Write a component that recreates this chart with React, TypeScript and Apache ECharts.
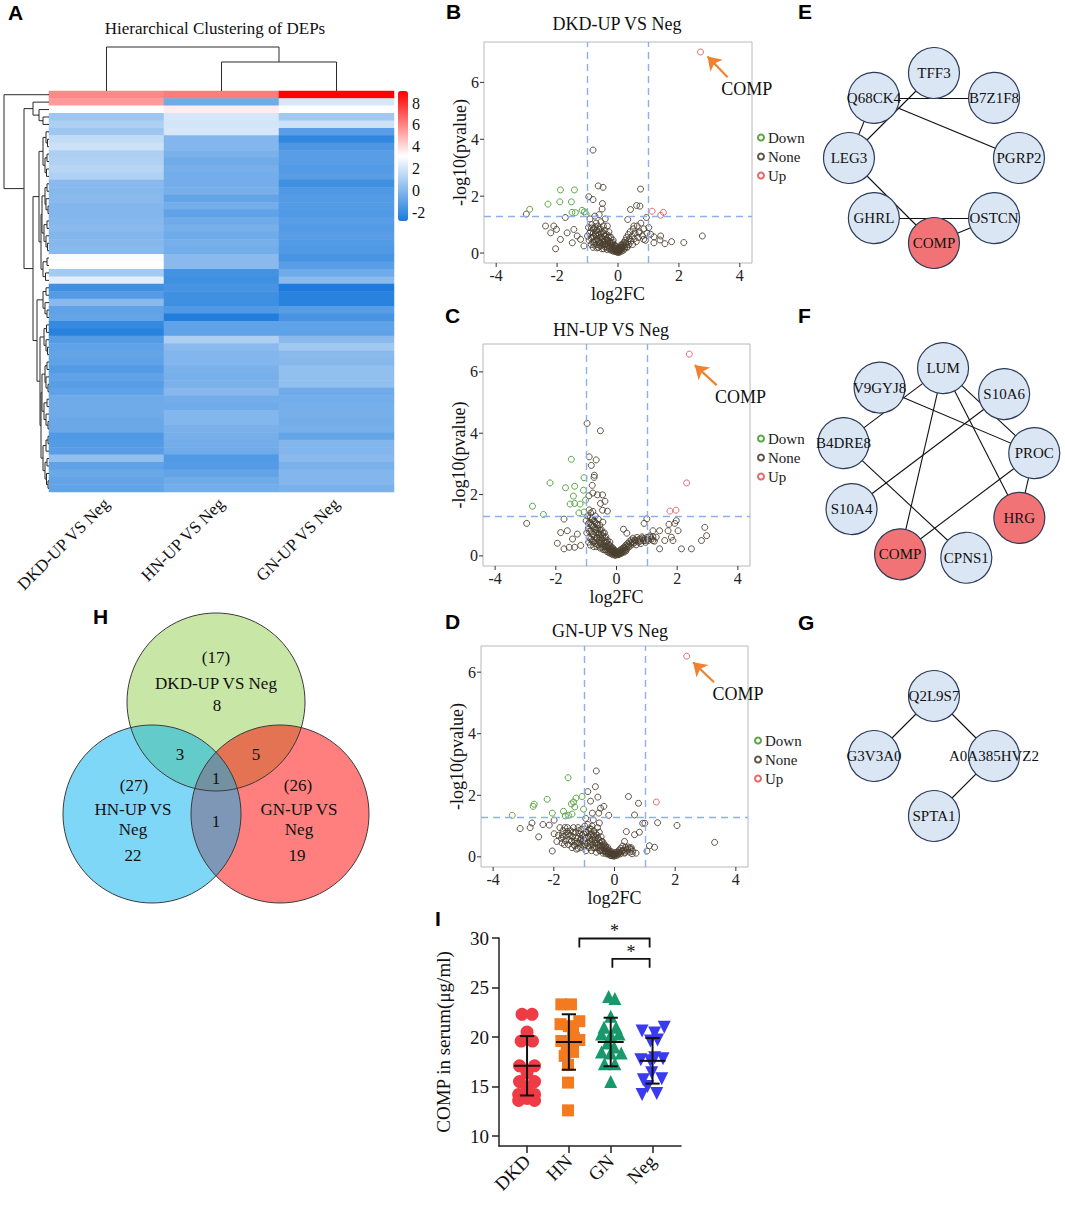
import React, { useEffect, useRef } from "react";
import * as echarts from "echarts";

const SERIF = '"Liberation Serif", "Times New Roman", serif';
const SANS = '"Liberation Sans", Arial, sans-serif';

// ---------------- Panel A: heatmap ----------------
const heatCols = ["DKD-UP VS Neg", "HN-UP VS Neg", "GN-UP VS Neg"];
const heatDKD = [5.9, 5.5, 3.1, 0.6, 1.0, 0.6, 1.6, 1.8, 1.0, 1.1, 1.3, 1.1, 0.1, 0.0, 0.1, -0.1, -0.1, 0.0, 0.1, -0.1, 0.0, 0.1, 3.0, 3.15, 0.8, 2.4, -1.8, -1.3, 0.1, -1.0, -0.9, -2.1, -2.4, -1.3, -1.0, -0.9, -1.0, -1.3, -1.0, -1.2, -1.0, -0.6, -0.6, -0.6, -0.7, -0.7, -1.4, -1.3, -1.2, 0.3, -1.0, -0.7, -0.9, -0.9];
const heatHN = [6.2, -0.6, 3.6, 2.1, 2.0, 2.1, -0.1, -0.1, -0.3, -0.6, -0.4, -0.5, -0.5, -0.4, -0.9, -0.5, -1.0, -0.6, -0.4, -0.6, -0.4, -0.5, 0.1, 0.1, -1.7, -1.8, -1.6, -1.8, -1.8, -1.4, -2.6, -1.0, -1.0, 1.0, 0.1, -0.1, -0.1, -0.3, -0.4, -0.3, 0.0, -0.5, -0.6, -0.1, -0.1, -0.3, -0.4, -0.5, -0.6, -1.4, -1.3, -0.9, -0.6, -0.5];
const heatGN = [9.0, 2.1, 3.1, 0.7, 1.8, -1.2, -2.2, -1.5, -1.2, -1.2, -1.3, -1.2, -1.8, -1.4, -1.3, -1.3, -1.4, -1.2, -1.3, -1.2, -1.3, -1.4, -1.6, -1.2, -0.6, 0.1, -2.7, -2.4, -2.4, -1.2, -1.6, -1.0, -1.0, 0.1, 0.7, 0.1, 0.0, 0.3, 0.3, 0.3, -0.6, -0.5, -0.4, -0.4, -0.5, -0.4, -0.9, -0.1, -0.1, 0.1, -0.3, -0.1, -0.1, -0.3];
const colorTicks = [-2, 0, 2, 4, 6, 8];
const colorMin = -2.8;
const colorMax = 9.1;

// dendrograms: [height, left, right], leaves are row / column indices
const rowTreeB = [16, 1, [10, 2, [6, 3, 4]]];
const rowTreeDa = [6, [3, 5, [1.5, 6, 7]], [4, [2, 8, 9], [2.5, 10, 11]]];
const rowTreeDb = [7, [4, [2, 12, 13], [3, 14, [1, 15, 16]]], [5, [2, 17, 18], [3, 19, [1.5, 20, 21]]]];
const rowTreeD2 = [6, [2, 22, 23], [3.5, 24, 25]];
const rowTreeE1 = [6, [3, 26, 27], [4, 28, [2, 29, 30]]];
const rowTreeE2a = [5, [2.5, 31, 32], [3, 33, [1.5, 34, 35]]];
const rowTreeE2b = [7, [4, [2, 36, 37], [3, 38, [1, 39, 40]]], [5, [2, 41, 42], [3, 43, [1, 44, 45]]]];
const rowTreeE2c = [6, [3, [1, 46, 47], 48], [4, [2, 49, 50], [2.5, 51, [1, 52, 53]]]];
const rowTree = [45, 0, [25, rowTreeB, [16, [10, rowTreeDa, [8, rowTreeDb, rowTreeD2]], [12, rowTreeE1, [9, rowTreeE2a, [8, rowTreeE2b, rowTreeE2c]]]]]];
const colTree = [44, 0, [29, 1, 2]];

// ---------------- Panels B-D: volcano ----------------
const volcanoTitles = ["DKD-UP VS Neg", "HN-UP VS Neg", "GN-UP VS Neg"];
const volcanoXName = "log2FC";
const volcanoYName = "-log10(pvalue)";
const fcCut = [-1, 1];
const pCut = 1.301;
const volcanoXMin = -4.4;
const volcanoXMax = 4.4;
const volcanoYMin = [-0.35, -0.33, -0.33];
const volcanoYMax = [7.42, 6.91, 6.85];
const volcanoXTicks = [-4, -2, 0, 2, 4];
const volcanoYTicks = [0, 2, 4, 6];

const dkdUp = [[2.71, 7.07], [1.12, 1.47], [1.49, 1.43], [1.4, 1.33]];
const dkdDown = [[-2.9, 1.54], [-2.3, 1.72], [-1.89, 2.22], [-1.43, 2.22], [-1.91, 1.8], [-1.53, 1.8], [-1.51, 1.43], [-1.4, 1.42], [-1.18, 1.5], [-1.1, 1.45], [-1.05, 1.38]];
const dkdNone = [[-3.01, 1.37], [-0.82, 3.62], [-0.65, 2.36], [-0.49, 2.31], [0.74, 2.25], [0.61, 1.67], [0.72, 1.65], [-0.96, 1.98], [-0.82, 1.88], [-0.51, 1.74], [0.41, 1.53], [-1.73, 1.25], [-2.38, 0.95], [-2.11, 0.95], [-2.02, 0.83], [-2.21, 0.71], [-2.05, 0.15], [-1.89, 0.48], [-1.67, 0.71], [-1.45, 0.83], [-1.34, 0.6], [-1.5, 0.36], [-1.23, 0.48], [-1.12, 0.25], [2.77, 0.6], [2.16, 0.37], [1.76, 0.4], [1.38, 0.46], [1.18, 0.36], [1.07, 0.66], [1.01, 0.9], [0.93, 1.25], [0.52, 0.95], [0.32, 1.18], [0.68, 0.71], [0.84, 0.48], [1.18, 0.57], [1.4, 0.6], [1.54, 0.33],
  [-1.0, 0.6], [-0.97, 0.9], [-0.95, 0.45], [-0.92, 1.2], [-0.9, 0.75], [-0.88, 0.3], [-0.86, 1.0], [-0.84, 0.55], [-0.82, 0.2], [-0.8, 0.85], [-0.78, 0.4], [-0.76, 1.3], [-0.74, 0.65], [-0.72, 1.05], [-0.7, 0.3], [-0.7, 0.8], [-0.68, 0.5], [-0.66, 0.95], [-0.64, 0.2], [-0.62, 1.35], [-0.62, 0.65], [-0.6, 0.4], [-0.58, 0.85], [-0.56, 1.1], [-0.55, 0.25], [-0.54, 0.55], [-0.52, 1.55], [-0.52, 0.75], [-0.5, 0.4], [-0.48, 0.95], [-0.47, 0.15], [-0.46, 0.6], [-0.44, 0.3], [-0.43, 0.8], [-0.42, 1.2], [-0.4, 0.45], [-0.38, 0.65], [-0.37, 0.2], [-0.35, 0.95], [-0.34, 0.35], [-0.32, 0.55], [-0.3, 0.75], [-0.29, 0.15], [-0.27, 0.4], [-0.25, 0.28], [-0.23, 0.55], [-0.21, 0.12], [-0.2, 0.35], [-0.18, 0.22], [-0.16, 0.45], [-0.14, 0.1], [-0.12, 0.28], [-0.1, 0.16], [-0.08, 0.06], [-0.06, 0.22], [-0.04, 0.1], [-0.02, 0.03], [0.0, 0.12], [0.02, 0.05], [0.04, 0.15], [0.06, 0.08], [0.08, 0.2], [0.1, 0.12], [0.12, 0.26], [0.14, 0.18], [0.16, 0.32], [0.18, 0.1], [0.2, 0.38], [0.22, 0.22], [0.24, 0.45], [0.26, 0.3], [0.28, 0.55], [0.3, 0.2], [0.32, 0.4], [0.34, 0.65], [0.36, 0.3], [0.38, 0.5], [0.4, 0.75], [0.43, 0.42], [0.46, 0.6], [0.48, 0.3], [0.5, 0.85], [0.53, 0.5], [0.56, 0.7], [0.6, 0.4], [0.63, 0.95], [0.66, 0.55], [0.7, 0.75], [0.75, 1.05], [0.8, 0.6], [0.85, 0.85], [0.9, 0.45], [0.95, 0.7],
  [-0.93, 0.7], [-0.89, 0.52], [-0.87, 0.88], [-0.83, 0.38], [-0.81, 0.7], [-0.79, 0.58], [-0.77, 0.28], [-0.75, 0.92], [-0.73, 0.46], [-0.71, 0.6], [-0.69, 0.18], [-0.67, 0.72], [-0.65, 0.42], [-0.63, 0.85], [-0.61, 0.28], [-0.59, 0.55], [-0.57, 0.35], [-0.55, 0.7], [-0.53, 0.15], [-0.51, 0.5], [-0.49, 0.3], [-0.47, 0.68], [-0.45, 0.42], [-0.43, 0.22], [-0.41, 0.58], [-0.39, 0.32], [-0.37, 0.5], [-0.35, 0.12], [-0.33, 0.44], [-0.31, 0.26], [-0.29, 0.6], [-0.27, 0.2], [-0.25, 0.36], [-0.23, 0.1], [-0.21, 0.3], [-0.19, 0.16], [-0.17, 0.38], [-0.15, 0.06], [-0.13, 0.2], [-0.11, 0.1], [-0.09, 0.25], [-0.07, 0.14], [-0.05, 0.04], [-0.03, 0.18], [-0.01, 0.08], [0.01, 0.14], [0.03, 0.02], [0.05, 0.2], [0.07, 0.1], [0.09, 0.28], [0.11, 0.06], [0.13, 0.2], [0.17, 0.26], [0.21, 0.16], [0.25, 0.35], [0.29, 0.22]];

const hnUp = [[2.4, 6.58], [2.31, 2.38], [1.76, 1.46], [1.96, 1.49]];
const hnDown = [[-2.77, 1.62], [-2.41, 1.35], [-2.19, 2.38], [-1.68, 2.22], [-1.49, 3.15], [-1.38, 2.27], [-1.42, 1.95], [-1.38, 1.71], [-1.53, 1.69], [-1.2, 1.69], [-1.24, 1.4], [-1.07, 1.43], [-1.07, 2.55], [-1.09, 2.14], [-1.02, 1.82]];
const hnNone = [[-0.97, 4.32], [-0.53, 4.08], [-0.9, 3.23], [-0.67, 3.13], [-0.83, 2.95], [-0.73, 2.63], [-0.74, 2.56], [-0.8, 2.3], [-0.78, 2.05], [-0.91, 1.96], [-0.63, 1.99], [-0.46, 1.99], [-0.38, 1.78], [-0.53, 1.71], [-0.46, 1.49], [-0.3, 1.46], [-2.96, 1.06], [-1.95, 0.41], [-1.73, 1.2], [-1.84, 0.76], [-1.62, 0.82], [-1.45, 0.55], [-1.29, 0.71], [-1.18, 0.34], [-1.56, 0.28], [-1.38, 0.28], [-1.73, 0.23], [1.0, 1.21], [0.91, 1.06], [0.23, 0.87], [0.34, 0.74], [1.2, 0.82], [1.42, 0.82], [1.7, 0.82], [1.73, 1.03], [1.92, 1.06], [1.97, 1.15], [2.03, 0.82], [1.81, 0.61], [1.59, 0.5], [1.42, 0.23], [1.86, 0.5], [2.14, 0.23], [2.47, 0.23], [2.8, 0.5], [2.91, 0.93], [2.97, 0.66], [1.2, 0.5], [1.1, 0.61], [1.31, 0.61],
  [-0.95, 1.3], [-0.93, 0.9], [-0.9, 1.5], [-0.9, 0.6], [-0.88, 1.1], [-0.86, 0.35], [-0.85, 1.4], [-0.84, 0.8], [-0.82, 1.2], [-0.8, 0.5], [-0.8, 1.0], [-0.78, 1.45], [-0.77, 0.7], [-0.75, 0.3], [-0.74, 1.15], [-0.72, 0.9], [-0.7, 0.5], [-0.7, 1.3], [-0.68, 0.75], [-0.66, 1.05], [-0.65, 0.3], [-0.63, 0.6], [-0.62, 0.9], [-0.6, 1.2], [-0.58, 0.45], [-0.57, 0.75], [-0.55, 1.0], [-0.53, 0.25], [-0.52, 0.6], [-0.5, 0.85], [-0.48, 0.4], [-0.46, 0.65], [-0.45, 1.1], [-0.43, 0.3], [-0.42, 0.5], [-0.4, 0.75], [-0.38, 0.2], [-0.36, 0.45], [-0.35, 0.62], [-0.33, 0.3], [-0.3, 0.5], [-0.28, 0.18], [-0.26, 0.38], [-0.24, 0.25], [-0.22, 0.45], [-0.2, 0.14], [-0.18, 0.3], [-0.16, 0.2], [-0.14, 0.1], [-0.12, 0.26], [-0.1, 0.15], [-0.08, 0.06], [-0.06, 0.18], [-0.04, 0.08], [-0.02, 0.03], [0.0, 0.1], [0.03, 0.04], [0.06, 0.12], [0.09, 0.07], [0.12, 0.16], [0.15, 0.1], [0.18, 0.22], [0.21, 0.14], [0.24, 0.28], [0.27, 0.18], [0.3, 0.34], [0.33, 0.22], [0.36, 0.4], [0.39, 0.28], [0.42, 0.46], [0.45, 0.32], [0.48, 0.52], [0.52, 0.38], [0.55, 0.58], [0.58, 0.42], [0.62, 0.5], [0.65, 0.36], [0.68, 0.6], [0.72, 0.45], [0.76, 0.55], [0.8, 0.4], [0.84, 0.62], [0.88, 0.5], [0.92, 0.56], [0.96, 0.44], [1.0, 0.6], [1.05, 0.5], [1.1, 0.65], [1.15, 0.55], [1.2, 0.62], [1.25, 0.48], [-0.98, 0.75], [-1.0, 1.15], [-0.92, 0.45],
  [-0.92, 1.05], [-0.9, 0.8], [-0.87, 1.25], [-0.85, 0.55], [-0.83, 1.0], [-0.81, 0.72], [-0.79, 1.2], [-0.77, 0.45], [-0.75, 0.95], [-0.73, 0.62], [-0.71, 1.1], [-0.69, 0.4], [-0.67, 0.85], [-0.65, 0.58], [-0.63, 1.0], [-0.61, 0.35], [-0.59, 0.7], [-0.57, 0.5], [-0.55, 0.85], [-0.53, 0.4], [-0.51, 0.7], [-0.49, 0.28], [-0.47, 0.52], [-0.45, 0.75], [-0.43, 0.2], [-0.41, 0.42], [-0.39, 0.6], [-0.37, 0.3], [-0.35, 0.2], [-0.33, 0.45], [-0.31, 0.14], [-0.29, 0.32], [-0.27, 0.24], [-0.25, 0.1], [-0.23, 0.34], [-0.21, 0.2], [-0.19, 0.08], [-0.17, 0.24], [-0.15, 0.15], [-0.13, 0.04], [-0.11, 0.12], [-0.09, 0.2], [-0.07, 0.1], [-0.05, 0.02], [-0.03, 0.14], [0.01, 0.06], [0.04, 0.14], [0.07, 0.04], [0.1, 0.1], [0.13, 0.2], [0.16, 0.08], [0.19, 0.16], [0.22, 0.24], [0.25, 0.12], [0.28, 0.26], [0.31, 0.16], [0.34, 0.3], [0.4, 0.36], [0.47, 0.42], [0.53, 0.46], [0.6, 0.52], [0.7, 0.5], [0.78, 0.48], [0.86, 0.58], [0.94, 0.5], [1.02, 0.55]];

const gnUp = [[2.38, 6.52], [1.38, 1.78]];
const gnDown = [[-3.37, 1.35], [-2.68, 1.64], [-2.65, 1.71], [-2.22, 1.87], [-2.05, 1.42], [-1.53, 2.57], [-1.68, 1.48], [-1.62, 1.33], [-1.51, 1.35], [-1.4, 1.39], [-1.42, 1.72], [-1.35, 1.78], [-1.31, 1.62], [-1.27, 1.91], [-1.07, 1.96], [-1.02, 1.55]];
const gnNone = [[-0.6, 2.79], [-0.63, 2.28], [-0.88, 2.12], [-0.55, 1.94], [-0.79, 1.81], [-0.35, 1.64], [-0.46, 1.58], [-0.73, 1.42], [-0.52, 1.42], [-0.19, 1.35], [0.46, 1.96], [0.66, 1.36], [0.79, 1.74], [0.93, 1.09], [1.0, 1.09], [1.42, 1.11], [2.06, 1.02], [3.3, 0.47], [0.82, 0.8], [0.66, 0.72], [0.39, 0.82], [0.33, 0.5], [0.55, 0.3], [0.71, 0.12], [1.32, 0.31], [1.15, 0.36], [1.07, 0.19], [-3.11, 0.92], [-2.78, 0.95], [-2.72, 1.1], [-2.5, 0.65], [-2.36, 1.05], [-2.05, 0.19], [-2.15, 1.03], [-1.99, 1.19], [-1.99, 0.75], [-1.7, 0.65], [-1.64, 0.95], [-1.51, 0.75], [-1.42, 0.51], [-1.31, 0.36], [-1.73, 0.45], [-1.2, 0.28],
  [-1.8, 0.95], [-1.75, 0.6], [-1.7, 0.85], [-1.65, 0.4], [-1.6, 0.7], [-1.55, 0.95], [-1.5, 0.55], [-1.45, 0.85], [-1.4, 0.3], [-1.38, 0.65], [-1.35, 0.95], [-1.3, 0.5], [-1.28, 0.8], [-1.25, 0.25], [-1.22, 0.6], [-1.2, 0.95], [-1.18, 0.45], [-1.15, 0.75], [-1.12, 0.3], [-1.1, 0.6], [-1.08, 0.9], [-1.05, 0.5], [-1.02, 0.75], [-1.0, 0.35], [-0.98, 1.0], [-0.96, 0.6], [-0.94, 0.2], [-0.92, 0.8], [-0.9, 0.45], [-0.88, 1.05], [-0.86, 0.65], [-0.84, 0.3], [-0.82, 0.9], [-0.8, 0.5], [-0.78, 0.75], [-0.76, 0.2], [-0.74, 1.0], [-0.72, 0.4], [-0.7, 0.65], [-0.68, 0.85], [-0.66, 0.3], [-0.64, 0.55], [-0.62, 0.75], [-0.6, 0.15], [-0.58, 0.45], [-0.56, 0.95], [-0.54, 0.6], [-0.52, 0.3], [-0.5, 0.8], [-0.48, 0.45], [-0.46, 0.2], [-0.44, 0.65], [-0.42, 0.35], [-0.4, 0.5], [-0.38, 0.12], [-0.36, 0.28], [-0.34, 0.42], [-0.32, 0.2], [-0.3, 0.35], [-0.28, 0.1], [-0.26, 0.25], [-0.24, 0.15], [-0.22, 0.3], [-0.2, 0.08], [-0.18, 0.2], [-0.16, 0.12], [-0.14, 0.05], [-0.12, 0.18], [-0.1, 0.1], [-0.08, 0.04], [-0.06, 0.14], [-0.04, 0.06], [-0.02, 0.02], [0.0, 0.08], [0.03, 0.12], [0.06, 0.05], [0.09, 0.16], [0.12, 0.1], [0.15, 0.22], [0.18, 0.14], [0.21, 0.28], [0.24, 0.18], [0.27, 0.35], [0.3, 0.22], [0.33, 0.12], [0.36, 0.3], [0.4, 0.2], [0.45, 0.32], [0.5, 0.15], [0.55, 0.25], [0.6, 0.18], [-1.85, 0.7], [-1.9, 0.5], [-0.95, 1.25], [-0.7, 1.2], [-0.5, 1.1],
  [-1.72, 0.72], [-1.62, 0.52], [-1.57, 0.82], [-1.52, 0.4], [-1.47, 0.7], [-1.42, 0.5], [-1.37, 0.8], [-1.33, 0.38], [-1.27, 0.62], [-1.23, 0.45], [-1.17, 0.85], [-1.13, 0.55], [-1.09, 0.4], [-1.06, 0.7], [-1.01, 0.55], [-0.97, 0.4], [-0.95, 0.8], [-0.91, 0.6], [-0.87, 0.35], [-0.85, 0.85], [-0.81, 0.62], [-0.79, 0.4], [-0.77, 0.9], [-0.73, 0.55], [-0.71, 0.3], [-0.69, 0.7], [-0.65, 0.45], [-0.63, 0.62], [-0.59, 0.3], [-0.57, 0.7], [-0.55, 0.4], [-0.51, 0.55], [-0.49, 0.2], [-0.47, 0.35], [-0.43, 0.5], [-0.41, 0.22], [-0.37, 0.38], [-0.35, 0.18], [-0.33, 0.3], [-0.29, 0.16], [-0.27, 0.3], [-0.23, 0.2], [-0.21, 0.12], [-0.17, 0.16], [-0.13, 0.1], [-0.11, 0.04], [-0.07, 0.08], [-0.03, 0.1], [0.01, 0.04], [0.05, 0.14], [0.1, 0.06], [0.14, 0.16], [0.2, 0.1], [0.26, 0.2], [0.35, 0.15], [0.42, 0.25], [0.5, 0.28], [0.58, 0.1]];

const volcanoUp = [dkdUp, hnUp, gnUp];
const volcanoDown = [dkdDown, hnDown, gnDown];
const volcanoNone = [dkdNone, hnNone, gnNone];
const arrowTail = [[3.6, 6.18], [3.3, 5.57], [3.28, 5.67]];
const arrowHead = [[2.94, 6.91], [2.58, 6.22], [2.59, 6.32]];
const compLabelAt = [[4.23, 5.75], [4.09, 5.17], [4.07, 5.28]];

// ---------------- Panels E-G: networks ----------------
const netENodes = ["TFF3", "B7Z1F8", "PGRP2", "OSTCN", "COMP", "GHRL", "LEG3", "Q68CK4"];
const netEEdges = [["Q68CK4", "B7Z1F8"], ["TFF3", "LEG3"], ["Q68CK4", "LEG3"], ["Q68CK4", "PGRP2"], ["LEG3", "COMP"], ["GHRL", "OSTCN"], ["COMP", "OSTCN"]];
const netFNodes = ["LUM", "S10A6", "PROC", "HRG", "CPNS1", "COMP", "S10A4", "B4DRE8", "V9GYJ8"];
const netFEdges = [["LUM", "B4DRE8"], ["LUM", "COMP"], ["LUM", "PROC"], ["LUM", "HRG"], ["V9GYJ8", "PROC"], ["S10A6", "S10A4"], ["B4DRE8", "CPNS1"], ["PROC", "COMP"], ["PROC", "HRG"]];
const netGNodes = ["Q2L9S7", "A0A385HVZ2", "SPTA1", "G3V3A0"];
const netGEdges = [["Q2L9S7", "G3V3A0"], ["Q2L9S7", "A0A385HVZ2"], ["A0A385HVZ2", "SPTA1"]];
const netHighlight = ["COMP", "HRG"];

// ---------------- Panel H: Venn ----------------
const vennSets = ["DKD-UP VS Neg", "HN-UP VS Neg", "GN-UP VS Neg"];
const vennTotals = [17, 27, 26];
const vennOnly = [8, 22, 19];
const vennPairs = [3, 5, 1]; // DKD∩HN, DKD∩GN, HN∩GN
const vennAll = 1;

// ---------------- Panel I: serum COMP ----------------
const groupNames = ["DKD", "HN", "GN", "Neg"];
const dkdSerum = [[0.88, 22.3], [1.12, 22.3], [1.0, 20.5], [0.86, 19.6], [1.13, 19.6], [0.82, 17.1], [1.18, 17.1], [1.0, 16.4], [0.82, 15.5], [1.18, 15.5], [1.0, 14.9], [0.8, 14.2], [1.18, 14.2], [0.8, 13.6], [1.0, 13.8], [1.18, 13.6]];
const hnSerum = [[1.82, 23.3], [2.05, 23.3], [1.8, 21.3], [2.0, 21.1], [2.25, 21.6], [2.1, 20.5], [1.82, 19.6], [2.0, 19.6], [2.25, 19.7], [2.12, 19.9], [1.95, 18.9], [2.1, 18.5], [1.9, 18.1], [1.98, 17.2], [1.98, 15.4], [1.98, 12.6]];
const gnSerum = [[2.95, 24.1], [3.1, 23.9], [3.0, 22.1], [2.84, 21.0], [3.13, 21.0], [2.78, 20.3], [3.0, 20.2], [3.2, 20.3], [2.92, 19.4], [3.08, 19.0], [2.78, 18.5], [3.0, 18.4], [3.25, 18.4], [2.85, 17.3], [3.1, 17.3], [3.0, 15.5]];
const negSerum = [[3.75, 20.6], [4.05, 20.4], [4.28, 21.0], [3.95, 19.6], [4.12, 19.7], [3.72, 17.7], [3.95, 17.6], [4.25, 17.8], [4.05, 17.9], [3.98, 16.4], [3.78, 15.7], [4.22, 15.8], [3.88, 15.0], [3.75, 14.2], [4.1, 14.3]];
const groupMeans = [17.1, 19.5, 19.5, 17.6];
const groupSDs = [3.0, 2.8, 2.45, 2.3];
const sigX1 = [2.25, 3.04];
const sigX2 = [3.93, 3.93];
const sigY = [29.95, 27.9];
const sigText = ["*", "*"];
const serumTicks = [10, 15, 20, 25, 30];

// ---------------- helpers ----------------
function flattenTree(t: any, out: number[][]): number[] {
  if (typeof t === "number") return [t + 0.5, 0];
  const L = flattenTree(t[1], out);
  const R = flattenTree(t[2], out);
  out.push([L[0], L[1], R[0], R[1], t[0]]);
  return [(L[0] + R[0]) / 2, t[0]];
}

function txt(text: string, x: number, y: number, o: any = {}) {
  return {
    type: "text",
    x,
    y,
    z: 100,
    silent: true,
    style: {
      text,
      fontSize: o.size || 17,
      fontFamily: o.family || SERIF,
      fontWeight: o.weight || "normal",
      fill: o.fill || "#111",
      align: o.align || "center",
      textAlign: o.align || "center",
      verticalAlign: "middle",
      textVerticalAlign: "middle",
      lineHeight: o.lineHeight || undefined,
    },
  };
}

function buildOption() {
  const rowSegs: number[][] = [];
  flattenTree(rowTree, rowSegs);
  const colSegs: number[][] = [];
  flattenTree(colTree, colSegs);

  const heatRows = heatDKD.map((_, i) => "r" + i);
  const heatVals = [heatDKD, heatHN, heatGN];
  const heatData: number[][] = [];
  heatVals.forEach((col, ci) => col.forEach((v, ri) => heatData.push([ci, ri, v])));

  const volGrids = [
    { left: 484, top: 42, width: 268, height: 221 },
    { left: 483, top: 344, width: 267, height: 222 },
    { left: 481, top: 646, width: 267, height: 221 },
  ];
  const volTitlePos = [[617, 24], [611, 330], [610, 631]];
  const legendPos = [[757, 130], [757, 431], [754, 733]];

  const grids: any[] = [
    { left: 49, top: 91, width: 345, height: 401 },
    { left: 4, top: 91, width: 45, height: 401 },
    { left: 49, top: 47, width: 345, height: 44 },
    ...volGrids.map((g) => ({ ...g, show: true, borderColor: "#b8b8b8", borderWidth: 1, backgroundColor: "transparent" })),
    { left: 499, top: 938, width: 182, height: 208 },
    { left: 398, top: 91, width: 10, height: 130 },
  ].map((g) => ({ ...g, containLabel: false, outerBoundsMode: "none" }));

  const xAxes: any[] = [
    {
      gridIndex: 0, type: "category", data: heatCols,
      axisLine: { show: false }, axisTick: { show: false },
      axisLabel: { rotate: 45, fontSize: 17, color: "#111", margin: 9, interval: 0, fontFamily: SERIF },
    },
    { gridIndex: 1, type: "value", min: 0, max: 45, inverse: true, show: false },
    { gridIndex: 2, type: "value", min: 0, max: 3, show: false },
    ...volGrids.map((_, i) => ({
      gridIndex: 3 + i, type: "value", min: volcanoXMin, max: volcanoXMax, show: false,
      axisLine: { show: false, onZero: false }, splitLine: { show: false },
    })),
    {
      gridIndex: 6, type: "value", min: 0.33, max: 4.68,
      axisLine: { show: true, onZero: false, lineStyle: { color: "#222", width: 1.5 } },
      axisTick: { show: true, customValues: [1, 2, 3, 4], length: 7, lineStyle: { color: "#222", width: 1.5 } },
      axisLabel: {
        customValues: [1, 2, 3, 4], rotate: 45, fontSize: 19, color: "#111", margin: 12, fontFamily: SERIF,
        formatter: (v: number) => groupNames[Math.round(v) - 1] || "",
      },
      splitLine: { show: false },
    },
    { gridIndex: 7, type: "value", show: false },
  ];

  const yAxes: any[] = [
    { gridIndex: 0, type: "category", data: heatRows, inverse: true, show: false },
    { gridIndex: 1, type: "value", min: 0, max: 54, inverse: true, show: false },
    { gridIndex: 2, type: "value", min: 0, max: 44, show: false },
    ...volGrids.map((_, i) => ({
      gridIndex: 3 + i, type: "value", min: volcanoYMin[i], max: volcanoYMax[i], show: false,
      axisLine: { show: false, onZero: false }, splitLine: { show: false },
    })),
    {
      gridIndex: 6, type: "value", min: 9, max: 30,
      name: "COMP in serum(μg/ml)", nameLocation: "middle", nameGap: 46,
      nameTextStyle: { fontSize: 19, color: "#111", fontFamily: SERIF },
      axisLine: { show: true, onZero: false, lineStyle: { color: "#222", width: 1.5 } },
      axisTick: { show: true, customValues: serumTicks, length: 7, lineStyle: { color: "#222", width: 1.5 } },
      axisLabel: { customValues: serumTicks, fontSize: 19, color: "#111", margin: 10, fontFamily: SERIF },
      splitLine: { show: false },
    },
    {
      gridIndex: 7, type: "value", min: colorMin, max: colorMax, position: "right",
      axisLine: { show: false }, axisTick: { show: false }, splitLine: { show: false },
      axisLabel: { customValues: colorTicks, fontSize: 16, color: "#111", margin: 4, fontFamily: SERIF },
    },
  ];

  const series: any[] = [];
  // 0: heatmap
  series.push({
    type: "heatmap", xAxisIndex: 0, yAxisIndex: 0, data: heatData, silent: true,
    itemStyle: { borderWidth: 0 }, emphasis: { disabled: true },
  });
  // dendrograms
  series.push({
    type: "custom", xAxisIndex: 1, yAxisIndex: 1, data: rowSegs, silent: true,
    renderItem: (_p: any, api: any) => {
      const pL = api.value(0), hL = api.value(1), pR = api.value(2), hR = api.value(3), h = api.value(4);
      return {
        type: "polyline",
        shape: { points: [api.coord([hL, pL]), api.coord([h, pL]), api.coord([h, pR]), api.coord([hR, pR])] },
        style: { stroke: "#2a2a2a", lineWidth: 1, fill: "none" },
      };
    },
  });
  series.push({
    type: "custom", xAxisIndex: 2, yAxisIndex: 2, data: colSegs, silent: true,
    renderItem: (_p: any, api: any) => {
      const pL = api.value(0), hL = api.value(1), pR = api.value(2), hR = api.value(3), h = api.value(4);
      return {
        type: "polyline",
        shape: { points: [api.coord([pL, hL]), api.coord([pL, h]), api.coord([pR, h]), api.coord([pR, hR])] },
        style: { stroke: "#2a2a2a", lineWidth: 1, fill: "none" },
      };
    },
  });

  // volcano series
  const hollow = (c: string, op = 1) => ({ color: "rgba(0,0,0,0)", borderColor: c, borderWidth: 1, opacity: op });
  volGrids.forEach((_, i) => {
    // ggplot-style axes: outside ticks, tick labels and titles on the left and bottom edges
    const yMid = (volcanoYMin[i] + volcanoYMax[i]) / 2;
    series.push({
      type: "custom", xAxisIndex: 3 + i, yAxisIndex: 3 + i, silent: true, clip: false,
      data: [...volcanoXTicks.map((v) => [0, v]), ...volcanoYTicks.map((v) => [1, v]), [2, 0], [3, yMid]],
      renderItem: (_p: any, api: any) => {
        const kind = api.value(0), v = api.value(1);
        const ts = { fontFamily: SERIF, fill: "#111" };
        if (kind === 2) {
          const p = api.coord([v, volcanoYMin[i]]);
          return { type: "text", x: p[0], y: p[1] + 22, style: { ...ts, text: volcanoXName, fontSize: 18, align: "center", verticalAlign: "top" } };
        }
        if (kind === 3) {
          const p = api.coord([volcanoXMin, v]);
          return { type: "text", x: p[0] - 24, y: p[1], rotation: Math.PI / 2, style: { ...ts, text: volcanoYName, fontSize: 18, align: "center", verticalAlign: "middle" } };
        }
        const p = kind === 0 ? api.coord([v, volcanoYMin[i]]) : api.coord([volcanoXMin, v]);
        const shape = kind === 0
          ? { x1: p[0], y1: p[1], x2: p[0], y2: p[1] + 4 }
          : { x1: p[0] - 4, y1: p[1], x2: p[0], y2: p[1] };
        const label = kind === 0
          ? { type: "text", x: p[0], y: p[1] + 4, style: { ...ts, fill: "#222", text: String(v), fontSize: 16, align: "center", verticalAlign: "top" } }
          : { type: "text", x: p[0] - 5, y: p[1], style: { ...ts, fill: "#222", text: String(v), fontSize: 16, align: "right", verticalAlign: "middle" } };
        return {
          type: "group",
          children: [{ type: "line", shape, style: { stroke: "#333", lineWidth: 1 } }, label],
        };
      },
    });
    series.push({
      type: "scatter", name: "None", xAxisIndex: 3 + i, yAxisIndex: 3 + i, data: volcanoNone[i],
      symbol: "circle", symbolSize: 6, itemStyle: hollow("#4a3f2f", 0.88), silent: true,
      markLine: {
        silent: true, symbol: "none", label: { show: false },
        lineStyle: { color: "#8db0ec", type: [7, 5], width: 1.4, opacity: 1 },
        data: [{ xAxis: fcCut[0] }, { xAxis: fcCut[1] }, { yAxis: pCut }],
      },
    });
    series.push({
      type: "scatter", name: "Down", xAxisIndex: 3 + i, yAxisIndex: 3 + i, data: volcanoDown[i],
      symbol: "circle", symbolSize: 6, itemStyle: hollow("#5aa544"), silent: true,
    });
    series.push({
      type: "scatter", name: "Up", xAxisIndex: 3 + i, yAxisIndex: 3 + i, data: volcanoUp[i],
      symbol: "circle", symbolSize: 6, itemStyle: hollow("#e36b6b"), silent: true,
      markLine: {
        silent: true, symbol: ["none", "arrow"], symbolSize: 13, label: { show: false },
        lineStyle: { color: "#f0812e", type: "solid", width: 2.2 },
        data: [[{ coord: arrowTail[i] }, { coord: arrowHead[i] }]],
      },
      markPoint: {
        silent: true,
        data: [{
          coord: compLabelAt[i], symbol: "circle", symbolSize: 1,
          itemStyle: { color: "rgba(0,0,0,0)" },
          label: { show: true, position: "inside", formatter: "COMP", fontSize: 18, color: "#111", fontFamily: SERIF },
        }],
      },
    });
  });

  // serum scatter
  const groupData = [dkdSerum, hnSerum, gnSerum, negSerum];
  const groupSymbols = ["circle", "rect", "triangle", "triangle"];
  const groupColors = ["#ef3b45", "#f47a1f", "#17996c", "#3a3aee"];
  groupNames.forEach((g, i) => {
    series.push({
      type: "scatter", name: g, xAxisIndex: 6, yAxisIndex: 6, data: groupData[i],
      symbol: groupSymbols[i], symbolRotate: i === 3 ? 180 : 0, symbolSize: i === 1 ? 12 : 13,
      itemStyle: { color: groupColors[i], opacity: 1 }, silent: true, z: 2,
    });
  });
  series.push({
    type: "custom", xAxisIndex: 6, yAxisIndex: 6, z: 5, silent: true,
    data: groupMeans.map((m, i) => [i + 1, m, groupSDs[i]]),
    renderItem: (_p: any, api: any) => {
      const x = api.value(0), m = api.value(1), s = api.value(2);
      const top = api.coord([x, m + s]), bot = api.coord([x, m - s]), mid = api.coord([x, m]);
      const w = api.size([0.31, 0])[0], c = api.size([0.17, 0])[0];
      const st = { stroke: "#111", lineWidth: 2 };
      return {
        type: "group",
        children: [
          { type: "line", shape: { x1: top[0], y1: top[1], x2: bot[0], y2: bot[1] }, style: st },
          { type: "line", shape: { x1: mid[0] - w, y1: mid[1], x2: mid[0] + w, y2: mid[1] }, style: st },
          { type: "line", shape: { x1: top[0] - c, y1: top[1], x2: top[0] + c, y2: top[1] }, style: st },
          { type: "line", shape: { x1: bot[0] - c, y1: bot[1], x2: bot[0] + c, y2: bot[1] }, style: st },
        ],
      };
    },
  });
  series.push({
    type: "custom", xAxisIndex: 6, yAxisIndex: 6, z: 5, silent: true, clip: false,
    data: sigY.map((y, i) => [sigX1[i], sigX2[i], y, i]),
    renderItem: (_p: any, api: any) => {
      const x1 = api.value(0), x2 = api.value(1), y = api.value(2), idx = api.value(3);
      const a = api.coord([x1, y - 0.9]), b = api.coord([x1, y]), c = api.coord([x2, y]), d = api.coord([x2, y - 0.9]);
      return {
        type: "group",
        children: [
          { type: "polyline", shape: { points: [a, b, c, d] }, style: { stroke: "#111", lineWidth: 1.8, fill: "none" } },
          {
            type: "text", x: (b[0] + c[0]) / 2, y: b[1] - 7,
            style: { text: sigText[idx], fontSize: 18, fontFamily: SERIF, fill: "#111", align: "center", verticalAlign: "middle" },
          },
        ],
      };
    },
  });

  // networks on polar systems
  const nets = [
    { nodes: netENodes, edges: netEEdges, offset: 0 },
    { nodes: netFNodes, edges: netFEdges, offset: 3 },
    { nodes: netGNodes, edges: netGEdges, offset: 0 },
  ];
  const polarLayout = [
    { center: [934, 158], radius: 85 },
    { center: [938, 465], radius: 97 },
    { center: [934, 756], radius: 60 },
  ];
  nets.forEach((n, i) => {
    series.push({
      type: "graph", coordinateSystem: "polar", polarIndex: i, silent: true,
      data: n.nodes.map((name, k) => ({
        name,
        value: [1, n.offset + (k * 360) / n.nodes.length],
        itemStyle: { color: netHighlight.includes(name) ? "#f17375" : "#dbe6f4" },
      })),
      links: n.edges.map(([s, t]) => ({ source: s, target: t })),
      symbol: "circle", symbolSize: 51,
      itemStyle: { borderColor: "#2c3b58", borderWidth: 1.2 },
      label: { show: true, position: "inside", fontFamily: SERIF, fontSize: 15, color: "#111" },
      lineStyle: { color: "#111", width: 1.1, opacity: 1, curveness: 0 },
      emphasis: { disabled: true },
    });
  });

  // graphics
  const graphics: any[] = [];
  const letters: any[] = [["A", 8, 12], ["B", 446, 11], ["E", 798, 11], ["C", 445, 315], ["F", 798, 315], ["D", 445, 621], ["G", 798, 622], ["H", 93, 616], ["I", 435, 918]];
  letters.forEach(([t, x, y]) => graphics.push(txt(t, x, y, { size: 21, family: SANS, weight: "bold", align: "left", fill: "#000" })));
  graphics.push(txt("Hierarchical Clustering of DEPs", 215, 28, { size: 17 }));
  volcanoTitles.forEach((t, i) => graphics.push(txt(t, volTitlePos[i][0], volTitlePos[i][1], { size: 18 })));

  // Venn
  const vennC = [[216, 702], [152, 814], [280, 814]];
  const vennFill = ["rgba(146,208,80,0.5)", "rgba(0,176,240,0.5)", "rgba(255,0,0,0.5)"];
  [0, 2, 1].forEach((k) => graphics.push({
    type: "circle", shape: { cx: vennC[k][0], cy: vennC[k][1], r: 89 }, style: { fill: vennFill[k] }, z: 10, silent: true,
  }));
  [0, 1, 2].forEach((k) => graphics.push({
    type: "circle", shape: { cx: vennC[k][0], cy: vennC[k][1], r: 89 }, style: { fill: "none", stroke: "#3a3a3a", lineWidth: 1 }, z: 11, silent: true,
  }));
  const totalPos = [[216, 657], [134, 785], [298, 785]];
  const namePos = [[216, 683], [133, 819], [299, 819]];
  const onlyPos = [[217, 705], [133, 855], [297, 855]];
  const pairPos = [[180, 754], [256, 754], [216, 821]];
  vennSets.forEach((s, k) => {
    graphics.push(txt("(" + vennTotals[k] + ")", totalPos[k][0], totalPos[k][1], { size: 17 }));
    graphics.push(txt(k === 0 ? s : s.replace(" Neg", "\nNeg"), namePos[k][0], namePos[k][1], { size: 17, lineHeight: 20 }));
    graphics.push(txt(String(vennOnly[k]), onlyPos[k][0], onlyPos[k][1], { size: 17 }));
    graphics.push(txt(String(vennPairs[k]), pairPos[k][0], pairPos[k][1], { size: 17 }));
  });
  graphics.push(txt(String(vennAll), 216, 778, { size: 17 }));

  return {
    animation: false,
    textStyle: { fontFamily: SERIF },
    grid: grids,
    xAxis: xAxes,
    yAxis: yAxes,
    polar: polarLayout.map((p) => ({ center: p.center, radius: p.radius })),
    angleAxis: polarLayout.map((_, i) => ({ polarIndex: i, type: "value", min: 0, max: 360, startAngle: 90, clockwise: true, show: false })),
    radiusAxis: polarLayout.map((_, i) => ({ polarIndex: i, type: "value", min: 0, max: 1, show: false })),
    visualMap: {
      type: "continuous", seriesIndex: 0, min: colorMin, max: colorMax, dimension: 2,
      inRange: { color: ["#1a79dc", "#ffffff", "#ff0000"] },
      left: 398, top: 91, itemWidth: 10, itemHeight: 130, padding: 0,
      calculable: false, hoverLink: false, text: ["", ""], textGap: 0, show: true,
    },
    legend: legendPos.map((p) => ({
      data: ["Down", "None", "Up"], left: p[0], top: p[1], orient: "vertical",
      itemWidth: 6, itemHeight: 6, itemGap: 4, selectedMode: false, padding: 0,
      textStyle: { fontSize: 15, color: "#222", fontFamily: SERIF, padding: [0, 0, 0, -1] },
    })),
    graphic: { elements: graphics },
    series,
  };
}

export default function App() {
  const ref = useRef<HTMLDivElement>(null);
  useEffect(() => {
    document.body.style.margin = "0";
    const chart = echarts.init(ref.current as HTMLDivElement, null, { renderer: "svg" });
    chart.setOption(buildOption() as any);
    return () => chart.dispose();
  }, []);
  return <div ref={ref} style={{ width: 1065, height: 1206 }} />;
}
